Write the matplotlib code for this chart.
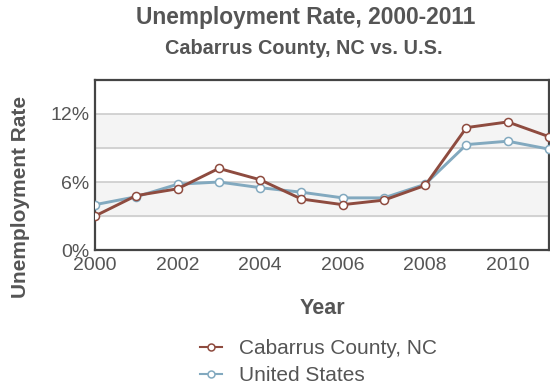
import matplotlib
matplotlib.use("Agg")
import matplotlib.pyplot as plt
from matplotlib.lines import Line2D

plt.rcParams["font.family"] = ["Liberation Sans", "DejaVu Sans"]

# unemployment rate [%]
years = [2000, 2001, 2002, 2003, 2004, 2005, 2006, 2007, 2008, 2009, 2010, 2011]
cabarrus = [3.0, 4.8, 5.4, 7.2, 6.2, 4.5, 4.0, 4.4, 5.7, 10.8, 11.3, 10.0]
us = [4.0, 4.7, 5.8, 6.0, 5.5, 5.1, 4.6, 4.6, 5.8, 9.3, 9.6, 8.9]
series_names = ["Cabarrus County, NC", "United States"]

ytick_vals = [0, 6, 12]
ytick_labels = ["0%", "6%", "12%"]
xtick_vals = [2000, 2002, 2004, 2006, 2008, 2010]
grid_vals = [3, 6, 9, 12]
bands = [(3, 6), (9, 12)]

red = "#8e4b3f"
blue = "#82a9bf"
text_col = "#555555"

fig = plt.figure(figsize=(5.5, 3.91), dpi=100)
ax = fig.add_axes([0.1727, 0.3606, 0.8255, 0.4348])

for lo, hi in bands:
    ax.axhspan(lo, hi, color="#f4f4f4", zorder=0)
for g in grid_vals:
    ax.axhline(g, color="#cccccc", lw=1.2, zorder=1)

mk = dict(marker="o", markersize=5.8, markerfacecolor="white",
          markeredgewidth=1.1, lw=2.1, zorder=3)
ax.plot(years, us, color=blue, **mk)
ax.plot(years, cabarrus, color=red, **mk)

ax.set_xlim(2000, 2011)
ax.set_ylim(0, 15)
ax.set_yticks(ytick_vals, ytick_labels)
ax.set_xticks(xtick_vals, [str(x) for x in xtick_vals])
ax.tick_params(length=0, labelsize=14, colors=text_col)
ax.tick_params(axis="y", pad=4)
ax.tick_params(axis="x", pad=5)
for sp in ax.spines.values():
    sp.set_color("#444444")
    sp.set_linewidth(1.6)

ax.set_xlabel("Year", fontsize=15.5, fontweight="bold", color=text_col)
ax.xaxis.set_label_coords(0.5, -0.28)
ax.set_ylabel("Unemployment Rate", fontsize=15, fontweight="bold",
              color=text_col)
ax.yaxis.set_label_coords(-0.143, 0.31)

fig.text(0.555, 0.955, "Unemployment Rate, 2000-2011", ha="center", va="center",
         fontsize=16.4, fontweight="bold", color=text_col)
fig.text(0.553, 0.877, "Cabarrus County, NC vs. U.S.", ha="center", va="center",
         fontsize=14.3, fontweight="bold", color=text_col)

handles = [Line2D([], [], color=c, marker="o", markersize=5, markerfacecolor="white",
                  markeredgewidth=1.1, lw=1.5) for c in (red, blue)]
leg = fig.legend(handles, series_names, loc="center left",
                 bbox_to_anchor=(0.33, 0.074), frameon=False, fontsize=15,
                 handlelength=1.05, handletextpad=0.8, labelspacing=0.4,
                 labelcolor=text_col)

fig.savefig("out.png", dpi=100)
